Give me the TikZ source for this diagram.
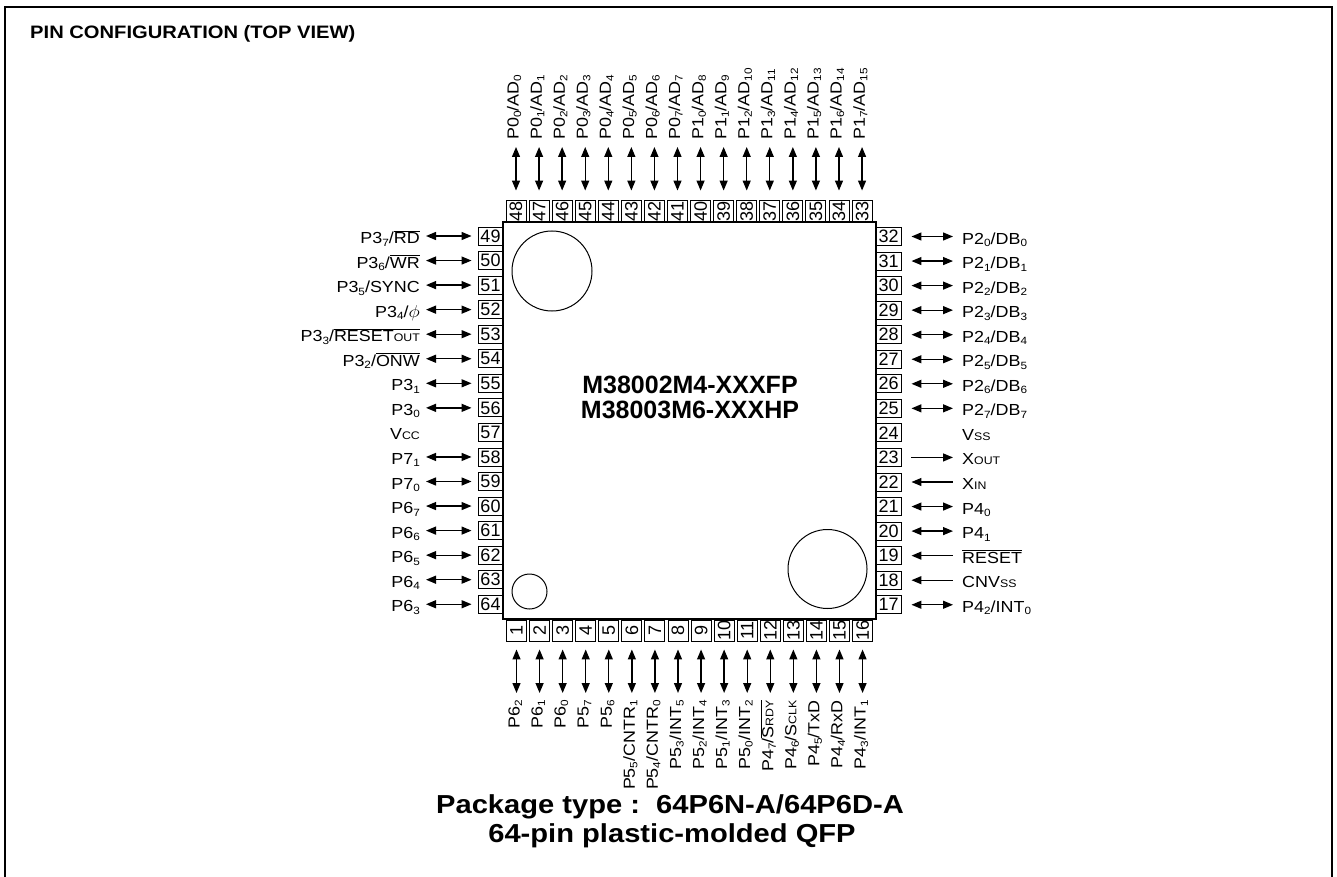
\documentclass[tikz,border=0pt]{standalone}
\usepackage{fontspec}
\usepackage{graphicx}
\setmainfont{Liberation Sans}
\usetikzlibrary{arrows.meta}
\newcommand{\wide}[1]{\scalebox{1.12}[1]{#1}}
\newcommand{\pinsub}[1]{\raisebox{-0.3ex}{\fontsize{10.5}{10.5}\selectfont #1}}
\newcommand{\pinsc}[1]{{\fontsize{11}{11}\selectfont #1}}
\newcommand{\ovl}[1]{$\overline{\mbox{#1}}$}
\begin{document}
\begin{tikzpicture}[x=1pt,y=-1pt,>={Triangle[length=10pt,width=8pt]},
    lbl/.style={inner sep=0pt,font=\fontsize{16}{16}\selectfont},
    pinbox/.style={draw,line width=0.9pt,inner sep=0pt,font=\fontsize{18}{18}\selectfont},
    sidebox/.style={pinbox,minimum width=25pt,minimum height=18pt},
    endbox/.style={pinbox,minimum width=22pt,minimum height=20pt,rotate=90},
    twoway/.style={<->,line width=1.3pt},
    inward/.style={<-,line width=1.3pt},
    outward/.style={->,line width=1.3pt},
    noarrow/.style={draw=none}]
  \useasboundingbox (0,0) rectangle (1337,877);
  \draw[line width=2.5pt] (5,880) -- (5,7) -- (1332,7) -- (1332,880);
  \node[anchor=base west,inner sep=0pt,font=\bfseries\fontsize{18}{18}\selectfont] (title) at (30,38.5) {\wide{PIN CONFIGURATION (TOP VIEW)}};

  \node[draw,line width=1.4pt,minimum width=373pt,minimum height=397pt] (chip) at (689.5,420.5) {};
  \draw[line width=1pt] (552,271) circle[radius=40pt];
  \draw[line width=1pt] (827.5,569) circle[radius=39.5pt];
  \draw[line width=1pt] (529.5,591.5) circle[radius=17.5pt];
  \node[anchor=base,font=\bfseries\fontsize{25}{25}\selectfont] (name1) at (690,393) {M38002M4-XXXFP};
  \node[anchor=base,font=\bfseries\fontsize{25}{25}\selectfont] (name2) at (690,418) {M38003M6-XXXHP};

  \foreach \n/\d/\t [count=\i from 0] in {
      49/twoway/{P3\pinsub{7}/\ovl{RD}}, 50/twoway/{P3\pinsub{6}/\ovl{WR}},
      51/twoway/{P3\pinsub{5}/SYNC}, 52/twoway/{P3\pinsub{4}/$\phi$},
      53/twoway/{P3\pinsub{3}/\ovl{RESET\pinsc{OUT}}}, 54/twoway/{P3\pinsub{2}/\ovl{ONW}},
      55/twoway/{P3\pinsub{1}}, 56/twoway/{P3\pinsub{0}}, 57/noarrow/{V\pinsc{CC}},
      58/twoway/{P7\pinsub{1}}, 59/twoway/{P7\pinsub{0}}, 60/twoway/{P6\pinsub{7}},
      61/twoway/{P6\pinsub{6}}, 62/twoway/{P6\pinsub{5}}, 63/twoway/{P6\pinsub{4}},
      64/twoway/{P6\pinsub{3}}}{
    \pgfmathsetmacro\py{236+24.55*\i}
    \node[sidebox] (p\n) at (490.5,\py) {\n};
    \coordinate (e\n) at (426,\py);
    \draw[\d,shorten <=6pt] (p\n.west) -- (e\n);
    \node[lbl,anchor=base east] (l\n) at (420,\py+7.5) {\wide{\t}};
  }

  \foreach \n/\d/\t [count=\i from 0] in {
      32/twoway/{P2\pinsub{0}/DB\pinsub{0}}, 31/twoway/{P2\pinsub{1}/DB\pinsub{1}},
      30/twoway/{P2\pinsub{2}/DB\pinsub{2}}, 29/twoway/{P2\pinsub{3}/DB\pinsub{3}},
      28/twoway/{P2\pinsub{4}/DB\pinsub{4}}, 27/twoway/{P2\pinsub{5}/DB\pinsub{5}},
      26/twoway/{P2\pinsub{6}/DB\pinsub{6}}, 25/twoway/{P2\pinsub{7}/DB\pinsub{7}},
      24/noarrow/{V\pinsc{SS}}, 23/outward/{X\pinsc{OUT}}, 22/inward/{X\pinsc{IN}},
      21/twoway/{P4\pinsub{0}}, 20/twoway/{P4\pinsub{1}}, 19/inward/{\ovl{RESET}},
      18/inward/{CNV\pinsc{SS}}, 17/twoway/{P4\pinsub{2}/INT\pinsub{0}}}{
    \pgfmathsetmacro\py{236.5+24.55*\i}
    \node[sidebox] (p\n) at (888.5,\py) {\n};
    \coordinate (e\n) at (953,\py);
    \draw[\d,shorten <=10pt] (p\n.east) -- (e\n);
    \node[lbl,anchor=base west] (l\n) at (962,\py+7.5) {\wide{\t}};
  }

  \foreach \k in {0,...,15}{
    \pgfmathtruncatemacro\n{48-\k}
    \pgfmathtruncatemacro\port{\k/8}
    \pgfmathtruncatemacro\bit{mod(\k,8)}
    \pgfmathsetmacro\px{516+23.07*\k}
    \node[endbox] (p\n) at (\px,211) {\n};
    \coordinate (e\n) at (\px,147);
    \draw[twoway,shorten <=9pt] (p\n.east) -- (e\n);
    \node[lbl,rotate=90,anchor=base west] (l\n) at (\px+2.7,140) {\wide{P\port\pinsub{\bit}/AD\pinsub{\k}}};
  }

  \foreach \n/\t [count=\i from 0] in {
      1/{P6\pinsub{2}}, 2/{P6\pinsub{1}}, 3/{P6\pinsub{0}}, 4/{P5\pinsub{7}},
      5/{P5\pinsub{6}}, 6/{P5\pinsub{5}/CNTR\pinsub{1}}, 7/{P5\pinsub{4}/CNTR\pinsub{0}},
      8/{P5\pinsub{3}/INT\pinsub{5}}, 9/{P5\pinsub{2}/INT\pinsub{4}},
      10/{P5\pinsub{1}/INT\pinsub{3}}, 11/{P5\pinsub{0}/INT\pinsub{2}},
      12/{P4\pinsub{7}/\ovl{S\pinsc{RDY}}}, 13/{P4\pinsub{6}/S\pinsc{CLK}},
      14/{P4\pinsub{5}/TxD}, 15/{P4\pinsub{4}/RxD}, 16/{P4\pinsub{3}/INT\pinsub{1}}}{
    \pgfmathsetmacro\px{516.5+23.07*\i}
    \node[endbox,minimum width=21pt] (p\n) at (\px,630.5) {\n};
    \coordinate (e\n) at (\px,693);
    \draw[twoway,shorten <=8pt] (p\n.west) -- (e\n);
    \node[lbl,rotate=90,anchor=base east] (l\n) at (\px+3,700) {\wide{\t}};
  }

  \node[anchor=base,font=\bfseries\fontsize{26}{26}\selectfont] (pkg) at (670,813) {\wide{Package type :\ \ 64P6N-A/64P6D-A}};
  \node[anchor=base,font=\bfseries\fontsize{26}{26}\selectfont] (qfp) at (672,842) {\wide{64-pin plastic-molded QFP}};
\end{tikzpicture}
\end{document}
